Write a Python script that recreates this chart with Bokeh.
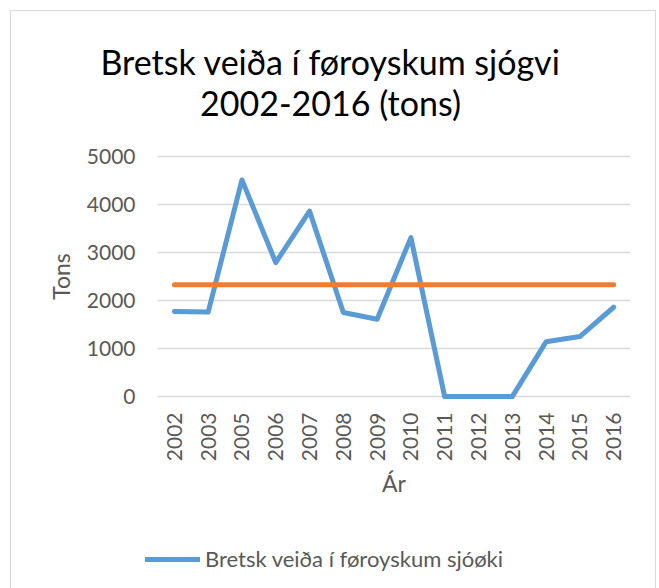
from bokeh.plotting import figure
from bokeh.layouts import column
from bokeh.models import (FactorRange, Range1d, Legend, LegendItem,
                          SingleIntervalTicker, Label)
from bokeh.embed import file_html
from bokeh.resources import INLINE
import math

years = ["2002", "2003", "2005", "2006", "2007", "2008", "2009",
         "2010", "2011", "2012", "2013", "2014", "2015", "2016"]
catch = [1770, 1760, 4510, 2790, 3860, 1750, 1610, 3310, 0, 0, 0, 1140, 1250, 1860]
average = [2330, 2330, 2330, 2330, 2330, 2330, 2330,
           2330, 2330, 2330, 2330, 2330, 2330, 2330]

title_line1 = "Bretsk veiða í føroyskum sjógvi"
title_line2 = "2002-2016 (tons)"
series_name = "Bretsk veiða í føroyskum sjóøki"
y_label = "Tons"
x_label = "Ár"

FONT = "Lato"
GREY = "#595959"
BLUE = "#5b9bd5"
ORANGE = "#ed7d31"
W = 644


def bare(fig):
    fig.outline_line_color = None
    fig.grid.visible = False
    return fig


def no_align(fig):
    if "frame_align" in fig.properties():
        fig.frame_align = False
    return fig


# ---- title strip ----
TH = 122
tf = bare(figure(width=W, height=TH, output_backend="svg", toolbar_location=None,
                 title_location=None, x_axis_location=None, y_axis_location=None,
                 x_range=Range1d(0, W), y_range=Range1d(0, TH),
                 min_border_left=0, min_border_right=0,
                 min_border_top=0, min_border_bottom=0))
no_align(tf)
for txt, yy in ((title_line1, 72.5), (title_line2, 31.5)):
    tf.add_layout(Label(x=319, y=yy, text=txt, text_align="center",
                        text_baseline="alphabetic", text_font=FONT,
                        text_font_size="34px", text_color="#000000"))

# ---- main chart ----
p = figure(width=W, height=380, output_backend="svg", toolbar_location=None,
           title_location=None,
           x_range=FactorRange(factors=years, range_padding=0),
           y_range=Range1d(-60, 5060),
           min_border_left=146, min_border_right=25,
           min_border_top=20, min_border_bottom=114)
no_align(p)

blue = p.line(years, catch, line_color=BLUE, line_width=5,
              line_cap="round", line_join="round")
orange = p.line(years, average, line_color=ORANGE, line_width=5,
                line_cap="round", line_join="round")

p.outline_line_color = None
p.xgrid.grid_line_color = None
p.ygrid.grid_line_color = "#d9d9d9"
p.ygrid.grid_line_width = 1.5
p.yaxis.ticker = SingleIntervalTicker(interval=1000)

for ax in (p.xaxis, p.yaxis):
    ax.axis_line_color = None
    ax.major_tick_line_color = None
    ax.minor_tick_line_color = None
    ax.major_tick_in = 0
    ax.major_tick_out = 0
    ax.minor_tick_out = 0
    ax.major_label_text_font = FONT
    ax.major_label_text_font_size = "21px"
    ax.major_label_text_color = GREY
    ax.axis_label_text_font = FONT
    ax.axis_label_text_font_size = "23px"
    ax.axis_label_text_font_style = "normal"
    ax.axis_label_text_color = GREY

p.yaxis.axis_label = y_label
p.yaxis.major_label_standoff = 22
p.yaxis.axis_label_standoff = 9
p.xaxis.axis_label = x_label
p.xaxis.major_label_orientation = math.pi / 2
p.xaxis.major_label_standoff = 13
p.xaxis.axis_label_standoff = 5

# ---- legend strip ----
LW = 362
lg = bare(figure(width=LW, height=75, output_backend="svg", toolbar_location=None,
                 title_location=None, x_axis_location=None, y_axis_location=None,
                 x_range=FactorRange(factors=years), y_range=Range1d(0, 5000),
                 min_border_left=0, min_border_right=0,
                 min_border_top=0, min_border_bottom=0,
                 styles={"margin-left": "132px"}))
no_align(lg)
legend_line = lg.line(years, catch, line_color=BLUE, line_width=5,
                      line_cap="round", visible=False)
legend = Legend(items=[LegendItem(label=series_name, renderers=[legend_line])],
                location="bottom_center", orientation="horizontal",
                glyph_width=55, glyph_height=20, label_standoff=5,
                label_text_font=FONT, label_text_font_size="22px",
                label_text_color=GREY, border_line_color=None,
                background_fill_alpha=0, padding=0, margin=16)
lg.add_layout(legend, "center")

layout = column(tf, p, lg, spacing=0,
                styles={"border-left": "1px solid #d9d9d9", "border-top": "1px solid #d9d9d9",
                        "border-right": "1px solid #d9d9d9",
                        "margin-left": "10px", "margin-top": "10px"})

open("out.html", "w").write(file_html(layout, INLINE))
